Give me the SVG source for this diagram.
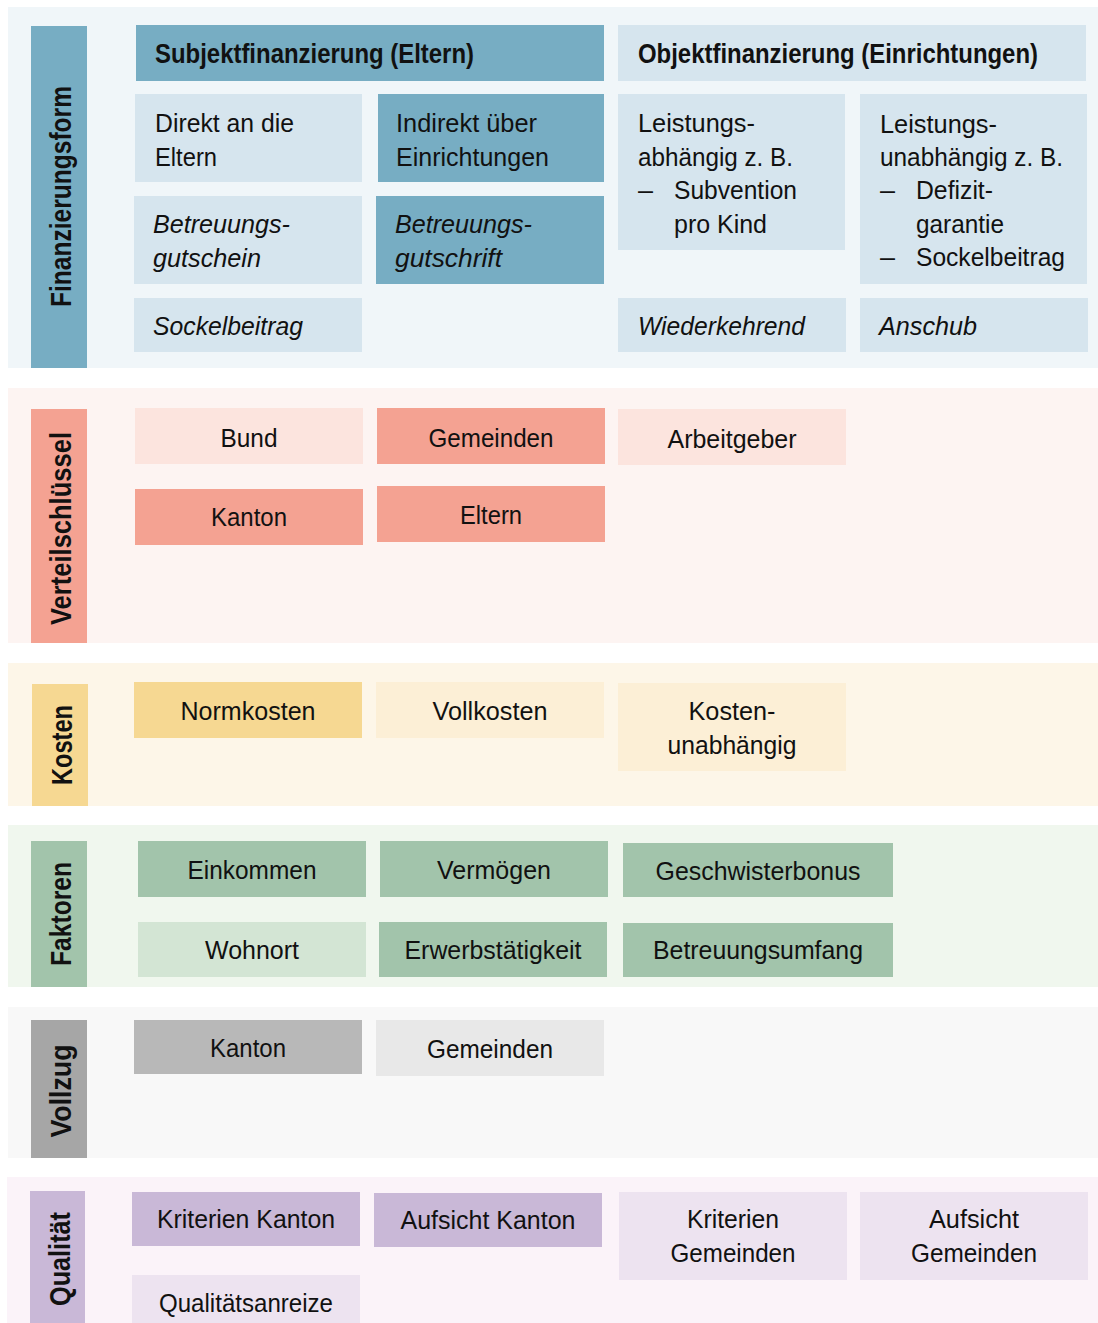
<svg xmlns="http://www.w3.org/2000/svg" width="1098" height="1323" viewBox="0 0 1098 1323">
<style>
text{font-family:"Liberation Sans",Arial,sans-serif;font-size:26px;fill:#111;}
.h{font-weight:bold;font-size:27px;}
.lab{font-weight:bold;font-size:30px;text-anchor:middle;}
.i{font-style:italic;}
.c{text-anchor:middle;}
.bg1{fill:#f0f6f9}.db{fill:#77adc3}.lb{fill:#d6e5ee}
.bg2{fill:#fdf4f2}.ds{fill:#f4a292}.ls{fill:#fce4de}
.bg3{fill:#fdf6e8}.dy{fill:#f6d892}.ly{fill:#fcefd6}
.bg4{fill:#f0f7ee}.dg{fill:#a2c4ab}.lg{fill:#d3e5d4}
.bg5{fill:#f8f8f8}.bar5{fill:#a6a6a6}.mg{fill:#b8b8b8}.lgr{fill:#e8e8e8}
.bg6{fill:#fbf3f9}.dp{fill:#c9b8d7}.lp{fill:#ede3f0}
</style>
<rect width="1098" height="1323" fill="#ffffff"/>

<g id="section-finanzierungsform">
<rect class="bg1" x="8" y="7" width="1090" height="361"/>
<rect class="db" x="31" y="26" width="56" height="342"/>
<text class="lab" transform="translate(71,196.5) rotate(-90)" textLength="221" lengthAdjust="spacingAndGlyphs">Finanzierungsform</text>
</g>
<g id="node-subjekt">
<rect class="db" x="136" y="25" width="468" height="56"/>
<text class="h" x="155" y="63" textLength="319" lengthAdjust="spacingAndGlyphs">Subjektfinanzierung (Eltern)</text>
</g>
<g id="node-objekt">
<rect class="lb" x="618" y="25" width="468" height="56"/>
<text class="h" x="638" y="63" textLength="400" lengthAdjust="spacingAndGlyphs">Objektfinanzierung (Einrichtungen)</text>
</g>
<g id="node-direkt">
<rect class="lb" x="135" y="94" width="227" height="88"/>
<text x="155" y="132" textLength="139" lengthAdjust="spacingAndGlyphs">Direkt an die</text>
<text x="155" y="166" textLength="62" lengthAdjust="spacingAndGlyphs">Eltern</text>
</g>
<g id="node-indirekt">
<rect class="db" x="378" y="94" width="226" height="88"/>
<text x="396" y="132" textLength="141" lengthAdjust="spacingAndGlyphs">Indirekt über</text>
<text x="396" y="166" textLength="153" lengthAdjust="spacingAndGlyphs">Einrichtungen</text>
</g>
<g id="node-gutschein">
<rect class="lb" x="134" y="196" width="228" height="88"/>
<text class="i" x="153" y="233" textLength="137" lengthAdjust="spacingAndGlyphs">Betreuungs-</text>
<text class="i" x="153" y="267" textLength="108" lengthAdjust="spacingAndGlyphs">gutschein</text>
</g>
<g id="node-gutschrift">
<rect class="db" x="376" y="196" width="228" height="88"/>
<text class="i" x="395" y="233" textLength="137" lengthAdjust="spacingAndGlyphs">Betreuungs-</text>
<text class="i" x="395" y="267" textLength="107" lengthAdjust="spacingAndGlyphs">gutschrift</text>
</g>
<g id="node-sockel1">
<rect class="lb" x="134" y="298" width="228" height="54"/>
<text class="i" x="153" y="335" textLength="150" lengthAdjust="spacingAndGlyphs">Sockelbeitrag</text>
</g>
<g id="node-leistungsabh">
<rect class="lb" x="618" y="94" width="227" height="156"/>
<text x="638" y="132" textLength="117" lengthAdjust="spacingAndGlyphs">Leistungs-</text>
<text x="638" y="166" textLength="155" lengthAdjust="spacingAndGlyphs">abhängig z. B.</text>
<text x="638" y="199" textLength="15" lengthAdjust="spacingAndGlyphs">–</text>
<text x="674" y="199" textLength="123" lengthAdjust="spacingAndGlyphs">Subvention</text>
<text x="674" y="233" textLength="93" lengthAdjust="spacingAndGlyphs">pro Kind</text>
</g>
<g id="node-leistungsunabh">
<rect class="lb" x="860" y="94" width="227" height="190"/>
<text x="880" y="133" textLength="117" lengthAdjust="spacingAndGlyphs">Leistungs-</text>
<text x="880" y="166" textLength="183" lengthAdjust="spacingAndGlyphs">unabhängig z. B.</text>
<text x="880" y="199" textLength="15" lengthAdjust="spacingAndGlyphs">–</text>
<text x="916" y="199" textLength="77" lengthAdjust="spacingAndGlyphs">Defizit-</text>
<text x="916" y="233" textLength="88" lengthAdjust="spacingAndGlyphs">garantie</text>
<text x="880" y="266" textLength="15" lengthAdjust="spacingAndGlyphs">–</text>
<text x="916" y="266" textLength="149" lengthAdjust="spacingAndGlyphs">Sockelbeitrag</text>
</g>
<g id="node-wiederkehrend">
<rect class="lb" x="618" y="298" width="228" height="54"/>
<text class="i" x="638" y="335" textLength="167" lengthAdjust="spacingAndGlyphs">Wiederkehrend</text>
</g>
<g id="node-anschub">
<rect class="lb" x="860" y="298" width="228" height="54"/>
<text class="i" x="879" y="335" textLength="98" lengthAdjust="spacingAndGlyphs">Anschub</text>
</g>

<g id="section-verteilschluessel">
<rect class="bg2" x="8" y="388" width="1090" height="255"/>
<rect class="ds" x="31" y="409" width="56" height="234"/>
<text class="lab" transform="translate(71,528.5) rotate(-90)" textLength="193" lengthAdjust="spacingAndGlyphs">Verteilschlüssel</text>
</g>
<g id="node-bund"><rect class="ls" x="135" y="408" width="228" height="56"/><text class="c" x="249" y="447" textLength="57" lengthAdjust="spacingAndGlyphs">Bund</text></g>
<g id="node-gemeinden1"><rect class="ds" x="377" y="408" width="228" height="56"/><text class="c" x="491" y="447" textLength="125" lengthAdjust="spacingAndGlyphs">Gemeinden</text></g>
<g id="node-arbeitgeber"><rect class="ls" x="618" y="409" width="228" height="56"/><text class="c" x="732" y="448" textLength="129" lengthAdjust="spacingAndGlyphs">Arbeitgeber</text></g>
<g id="node-kanton1"><rect class="ds" x="135" y="489" width="228" height="56"/><text class="c" x="249" y="526" textLength="76" lengthAdjust="spacingAndGlyphs">Kanton</text></g>
<g id="node-eltern"><rect class="ds" x="377" y="486" width="228" height="56"/><text class="c" x="491" y="524" textLength="62" lengthAdjust="spacingAndGlyphs">Eltern</text></g>

<g id="section-kosten">
<rect class="bg3" x="8" y="663" width="1090" height="143"/>
<rect class="dy" x="32" y="684" width="56" height="122"/>
<text class="lab" transform="translate(72,745) rotate(-90)" textLength="80" lengthAdjust="spacingAndGlyphs">Kosten</text>
</g>
<g id="node-normkosten"><rect class="dy" x="134" y="682" width="228" height="56"/><text class="c" x="248" y="720" textLength="135" lengthAdjust="spacingAndGlyphs">Normkosten</text></g>
<g id="node-vollkosten"><rect class="ly" x="376" y="682" width="228" height="56"/><text class="c" x="490" y="720" textLength="115" lengthAdjust="spacingAndGlyphs">Vollkosten</text></g>
<g id="node-kostenunabh"><rect class="ly" x="618" y="683" width="228" height="88"/><text class="c" x="732" y="720" textLength="87" lengthAdjust="spacingAndGlyphs">Kosten-</text><text class="c" x="732" y="754" textLength="129" lengthAdjust="spacingAndGlyphs">unabhängig</text></g>

<g id="section-faktoren">
<rect class="bg4" x="8" y="825" width="1090" height="162"/>
<rect class="dg" x="31" y="841" width="56" height="146"/>
<text class="lab" transform="translate(71,914) rotate(-90)" textLength="104" lengthAdjust="spacingAndGlyphs">Faktoren</text>
</g>
<g id="node-einkommen"><rect class="dg" x="138" y="841" width="228" height="56"/><text class="c" x="252" y="879" textLength="129" lengthAdjust="spacingAndGlyphs">Einkommen</text></g>
<g id="node-vermoegen"><rect class="dg" x="380" y="841" width="228" height="56"/><text class="c" x="494" y="879" textLength="114" lengthAdjust="spacingAndGlyphs">Vermögen</text></g>
<g id="node-geschwister"><rect class="dg" x="623" y="843" width="270" height="54"/><text class="c" x="758" y="880" textLength="205" lengthAdjust="spacingAndGlyphs">Geschwisterbonus</text></g>
<g id="node-wohnort"><rect class="lg" x="138" y="922" width="228" height="55"/><text class="c" x="252" y="959" textLength="94" lengthAdjust="spacingAndGlyphs">Wohnort</text></g>
<g id="node-erwerb"><rect class="dg" x="379" y="922" width="228" height="55"/><text class="c" x="493" y="959" textLength="177" lengthAdjust="spacingAndGlyphs">Erwerbstätigkeit</text></g>
<g id="node-umfang"><rect class="dg" x="623" y="923" width="270" height="54"/><text class="c" x="758" y="959" textLength="210" lengthAdjust="spacingAndGlyphs">Betreuungsumfang</text></g>

<g id="section-vollzug">
<rect class="bg5" x="8" y="1007" width="1090" height="151"/>
<rect class="bar5" x="31" y="1020" width="56" height="138"/>
<text class="lab" transform="translate(71,1091) rotate(-90)" textLength="93" lengthAdjust="spacingAndGlyphs">Vollzug</text>
</g>
<g id="node-kanton2"><rect class="mg" x="134" y="1020" width="228" height="54"/><text class="c" x="248" y="1057" textLength="76" lengthAdjust="spacingAndGlyphs">Kanton</text></g>
<g id="node-gemeinden2"><rect class="lgr" x="376" y="1020" width="228" height="56"/><text class="c" x="490" y="1058" textLength="126" lengthAdjust="spacingAndGlyphs">Gemeinden</text></g>

<g id="section-qualitaet">
<rect class="bg6" x="7" y="1177" width="1091" height="146"/>
<rect class="dp" x="30" y="1191" width="55" height="132"/>
<text class="lab" transform="translate(70,1259) rotate(-90)" textLength="94" lengthAdjust="spacingAndGlyphs">Qualität</text>
</g>
<g id="node-kriterienkanton"><rect class="dp" x="132" y="1192" width="228" height="54"/><text class="c" x="246" y="1228" textLength="178" lengthAdjust="spacingAndGlyphs">Kriterien Kanton</text></g>
<g id="node-aufsichtkanton"><rect class="dp" x="374" y="1193" width="228" height="54"/><text class="c" x="488" y="1229" textLength="175" lengthAdjust="spacingAndGlyphs">Aufsicht Kanton</text></g>
<g id="node-kriteriengemeinden"><rect class="lp" x="619" y="1192" width="228" height="88"/><text class="c" x="733" y="1228" textLength="92" lengthAdjust="spacingAndGlyphs">Kriterien</text><text class="c" x="733" y="1262" textLength="125" lengthAdjust="spacingAndGlyphs">Gemeinden</text></g>
<g id="node-aufsichtgemeinden"><rect class="lp" x="860" y="1192" width="228" height="88"/><text class="c" x="974" y="1228" textLength="90" lengthAdjust="spacingAndGlyphs">Aufsicht</text><text class="c" x="974" y="1262" textLength="126" lengthAdjust="spacingAndGlyphs">Gemeinden</text></g>
<g id="node-anreize"><rect class="lp" x="132" y="1275" width="228" height="48"/><text class="c" x="246" y="1312" textLength="174" lengthAdjust="spacingAndGlyphs">Qualitätsanreize</text></g>

<g id="connectors"></g>
</svg>
